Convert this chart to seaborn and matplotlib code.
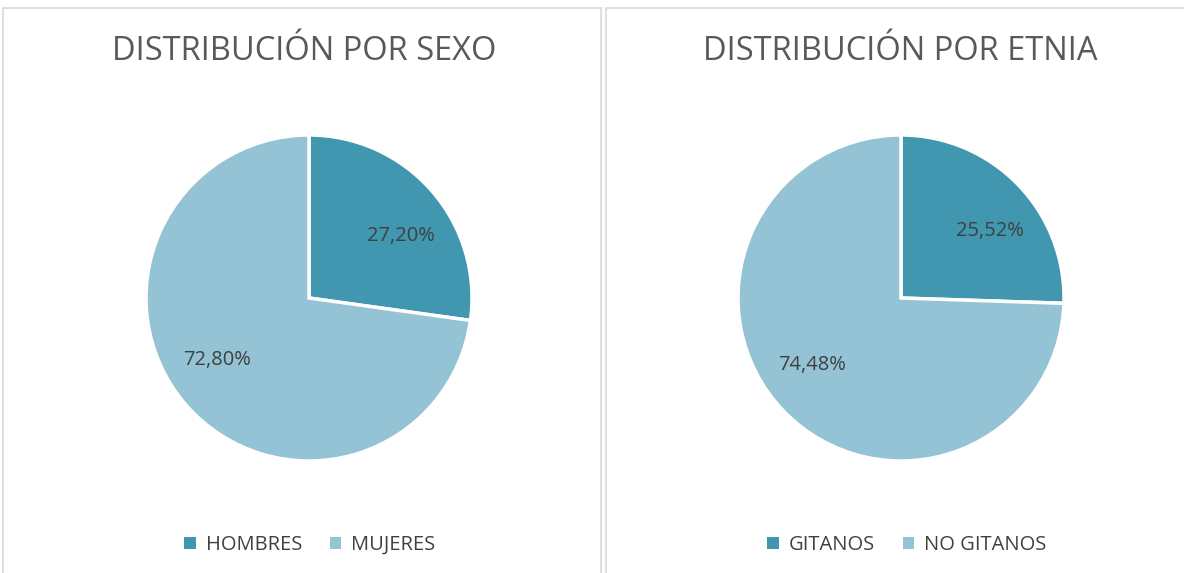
#!/usr/bin/env python3
"""Two pie charts: distribution by sex and by ethnicity."""

import numpy as np
import matplotlib.pyplot as plt
import seaborn as sns
from matplotlib.patches import Rectangle, Patch

SEXO_LABELS = ["HOMBRES", "MUJERES"]
SEXO_VALUES = [27.20, 72.80]
ETNIA_LABELS = ["GITANOS", "NO GITANOS"]
ETNIA_VALUES = [25.52, 74.48]
TITLES = ["DISTRIBUCIÓN POR SEXO", "DISTRIBUCIÓN POR ETNIA"]

DARK = "#4197b0"
LIGHT = "#93c3d4"
TEXT = "#404040"
TITLE_C = "#595959"


def fmt(p):
    return f"{p:.2f}%".replace(".", ",")


def main() -> None:
    sns.set_theme(style="white")
    plt.rcParams["font.family"] = ["Open Sans", "DejaVu Sans"]

    W, H = 1184, 573
    fig = plt.figure(figsize=(W / 100, H / 100), dpi=100)
    fig.patch.set_facecolor("white")

    # panel borders
    for x0, x1 in ((3, 601), (606, 1190)):
        fig.patches.append(
            Rectangle((x0 / W, -0.05), (x1 - x0) / W, 1 - 8 / H + 0.05,
                      transform=fig.transFigure, fill=False,
                      edgecolor="#d9d9d9", linewidth=1.2)
        )

    r = 163
    panels = [
        (309, 304, 310, SEXO_LABELS, SEXO_VALUES, TITLES[0]),
        (901, 900, 907, ETNIA_LABELS, ETNIA_VALUES, TITLES[1]),
    ]
    for cx, tx, lx, labels, values, title in panels:
        cy = 298
        ax = fig.add_axes([(cx - r) / W, (H - cy - r) / H, 2 * r / W, 2 * r / H])
        wedges, _, autotexts = ax.pie(
            values,
            colors=[DARK, LIGHT],
            startangle=90,
            counterclock=False,
            autopct=fmt,
            pctdistance=0.68,
            wedgeprops=dict(edgecolor="white", linewidth=2.5),
            textprops=dict(color=TEXT, fontsize=14.5),
        )
        # nudge labels slightly clockwise, like the spreadsheet's best-fit placement
        rot = np.deg2rad(-7)
        for t in autotexts:
            x, y = t.get_position()
            t.set_position((x * np.cos(rot) - y * np.sin(rot),
                            x * np.sin(rot) + y * np.cos(rot)))
        ax.set_xlim(-1, 1)
        ax.set_ylim(-1, 1)
        ax.set_aspect("equal")
        ax.axis("off")

        fig.text(tx / W, 1 - 52 / H, title, ha="center", va="center",
                 fontsize=23.5, color=TITLE_C)

        handles = [Patch(facecolor=c, edgecolor="none") for c in (DARK, LIGHT)]
        fig.legend(handles, labels, loc="center", ncol=2,
                   bbox_to_anchor=(lx / W, 1 - 545 / H), frameon=False,
                   fontsize=14.5, labelcolor=TEXT, handlelength=0.55,
                   handleheight=0.55, handletextpad=0.5, columnspacing=1.4)

    fig.savefig("out.png", dpi=100, facecolor="white")
    plt.close(fig)


if __name__ == "__main__":
    main()
